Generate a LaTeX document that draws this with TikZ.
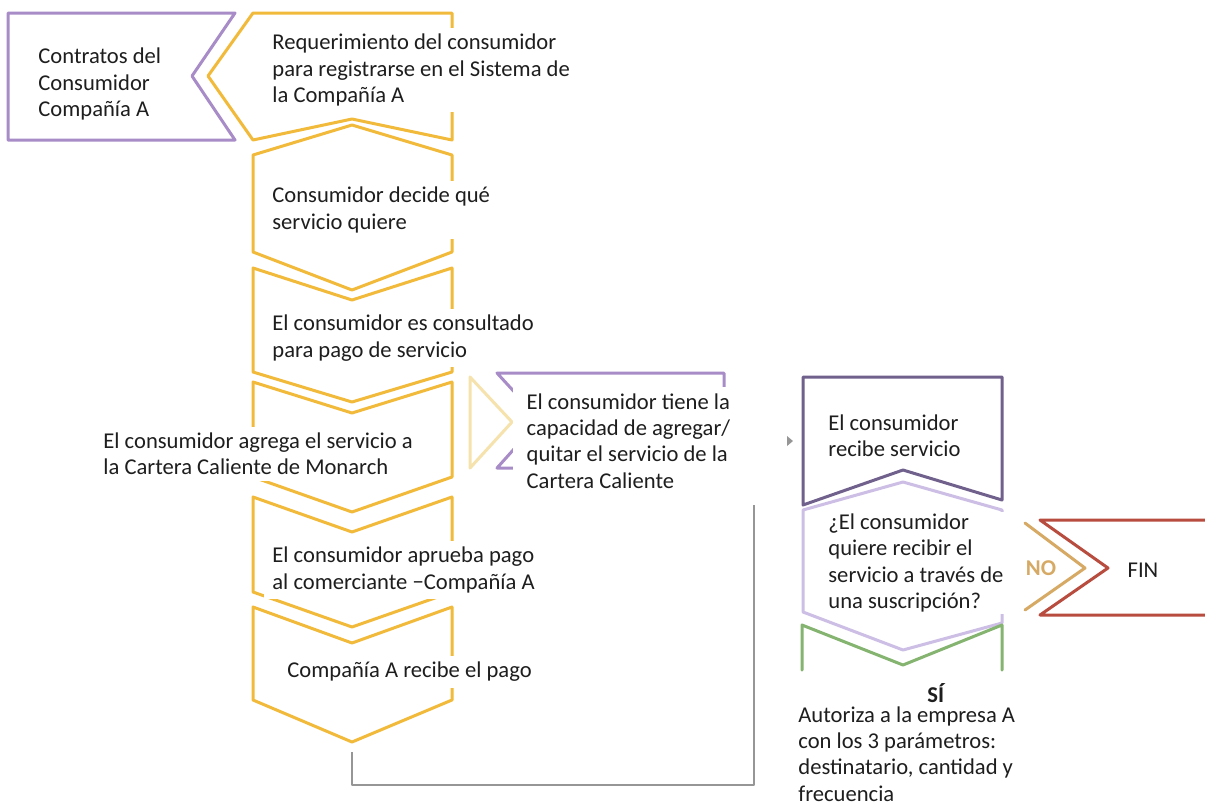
\documentclass[tikz,border=0pt]{standalone}
\usepackage{fontspec}
\setmainfont{Carlito}
\definecolor{oro}{RGB}{242,186,58}
\definecolor{oroclaro}{RGB}{246,226,172}
\definecolor{lila}{RGB}{168,140,200}
\definecolor{lilaclaro}{RGB}{204,190,228}
\definecolor{morado}{RGB}{112,96,140}
\definecolor{verde}{RGB}{132,180,112}
\definecolor{ocre}{RGB}{214,170,100}
\definecolor{rojo}{RGB}{184,76,62}
\definecolor{gris}{RGB}{150,150,150}
\definecolor{tinta}{RGB}{30,30,30}
\begin{document}
\begin{tikzpicture}[x=0.5pt, y=-0.5pt, font=\fontsize{11.3}{13.2}\selectfont, line join=round, line cap=round]
	\tikzset{every node/.style={text=tinta, align=left, inner sep=4pt},
		txt/.style={fill=white, anchor=west, inner ysep=3pt},
		forma/.style={line width=1.5pt}}
	\useasboundingbox[fill=white] (0,0) rectangle (1205,810);
	% columna izquierda
	\draw[forma, draw=lila] (8,13)--(235,13)--(192,76)--(235,140)--(8,140)--cycle;
	\draw[forma, draw=oro] (253,13)--(452,13)--(452,140)--(352,119)--(253,140)--(208,76)--cycle;
	\foreach \t/\a/\b/\c in {155/125/252/290, 268/300/372/402, 382/413/477/512, 497/532/592/627, 607/643/700/742}
	\draw[forma, draw=oro] (253,\t)--(352,\a)--(452,\t)--(452,\b)--(352,\c)--(253,\b)--cycle;
	% cartera caliente
	\draw[forma, draw=oroclaro] (470,377)--(512,422)--(470,468)--cycle;
	\draw[forma, draw=lila] (497,373)--(724,373)--(724,468)--(497,468)--(540,420)--cycle;
	% columna derecha
	\draw[forma, draw=morado] (803,377)--(1002,377)--(1002,500)--(903,470)--(803,505)--cycle;
	\draw[forma, draw=lilaclaro] (803,510)--(903,482)--(1002,510)--(1002,623)--(903,650)--(803,612)--cycle;
	\draw[forma, draw=verde] (802,670)--(802,625)--(903,665)--(1002,625)--(1002,670);
	\draw[forma, draw=ocre] (1025,523)--(1085,568)--(1025,610);
	\draw[forma, draw=rojo] (1205,520)--(1040,520)--(1108,568)--(1040,615)--(1205,615);
	% textos
	\node[txt] (contratos) at (30,84) {Contratos del\\Consumidor\\Compañía A};
	\node[txt] (req) at (264,70) {Requerimiento del consumidor\\para registrarse en el Sistema de\\la Compañía A};
	\node[txt] (decide) at (264,210) {Consumidor decide qué\\servicio quiere};
	\node[txt] (consulta) at (264,338) {El consumidor es consultado\\para pago de servicio};
	\node[txt] (agrega) at (95,454) {El consumidor agrega el servicio a\\la Cartera Caliente de Monarch};
	\node[txt] (aprueba) at (264,570) {El consumidor aprueba pago\\al comerciante −Compañía A};
	\node[txt] (pago) at (279,672) {Compañía A recibe el pago};
	\node[txt, minimum width=115pt] (tiene) at (513,441) {El consumidor tiene la\\capacidad de agregar/\\quitar el servicio de la\\Cartera Caliente};
	\node[txt] (servicio) at (820,436) {El consumidor\\recibe servicio};
	\node[txt, inner ysep=1pt] (pregunta) at (820,563) {¿El consumidor\\quiere recibir el\\servicio a través de\\una suscripción?};
	\node[txt, inner ysep=1pt, font=\fontsize{11.3}{13.2}\selectfont\bfseries] (si) at (919,693) {SÍ};
	\node[txt, anchor=north west, inner ysep=1pt] (autoriza) at (790,704) {Autoriza a la empresa A\\con los 3 parámetros:\\destinatario, cantidad y\\frecuencia};
	\node[text=ocre, font=\fontsize{11.3}{13.2}\selectfont\bfseries] (no) at (1041,568) {NO};
	\node (fin) at (1143,570) {FIN};
	% conector
	\coordinate (pagoFin) at (352,752);
	\coordinate (servicioIn) at (754,505);
	\draw[gris, line width=1pt, line cap=butt] (pagoFin)--++(0,33)-|(servicioIn);
	\fill[gris] (787,436)--(793,441)--(787,446)--cycle;
\end{tikzpicture}
\end{document}
